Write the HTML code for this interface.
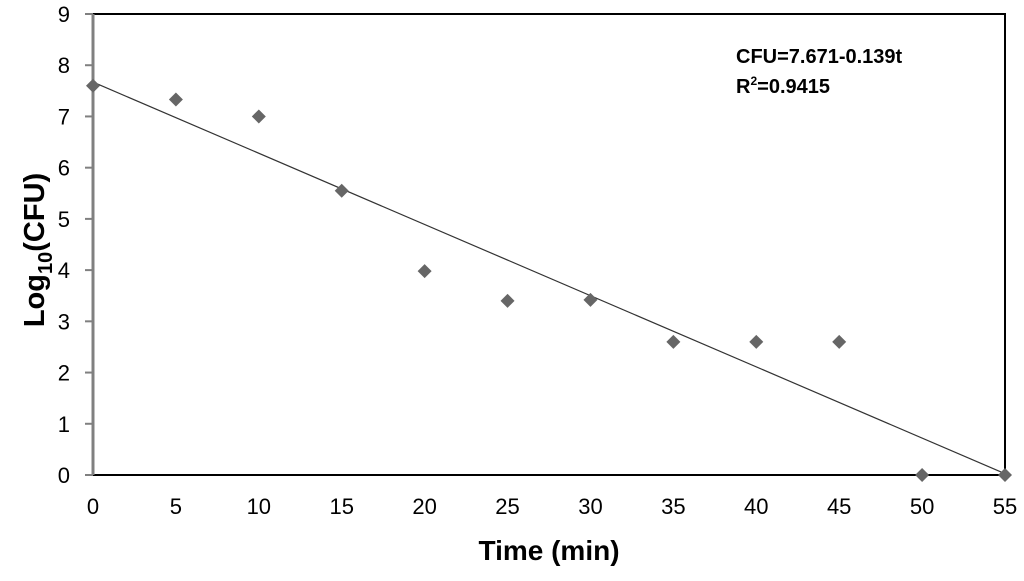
<!DOCTYPE html>
<html><head><meta charset="utf-8"><style>
body{margin:0;background:#fff;font-family:"Liberation Sans",sans-serif}
</style></head><body>
<svg id="c" width="1024" height="576" xmlns="http://www.w3.org/2000/svg"></svg>
<script>
const xVals=[0,5,10,15,20,25,30,35,40,45,50,55];
const yVals=[7.6,7.33,7.0,5.55,3.98,3.4,3.42,2.6,2.6,2.6,0,0];
const xTicks=[0,5,10,15,20,25,30,35,40,45,50,55];
const yTicks=[0,1,2,3,4,5,6,7,8,9];
const trendCoef=[7.671,-0.139];
const L=93,R=1005,T=14,B=475;
const sx=v=>L+(v-0)/55*(R-L);
const sy=v=>B-(v/9)*(B-T);
const s=document.getElementById('c');
const NS='http://www.w3.org/2000/svg';
function mk(tag,a,txt){const e=document.createElementNS(NS,tag);for(const k in a)e.setAttribute(k,a[k]);if(txt!=null)e.textContent=txt;s.appendChild(e);return e;}
let e;
e=mk('rect',{x:L,y:T,width:R-L,height:B-T,fill:'none',stroke:'#000','stroke-width':2});


e=mk('line',{x1:L,y1:T,x2:L,y2:B,stroke:'#808080','stroke-width':3});


yTicks.forEach(t=>{
 e=mk('line',{x1:L-8,y1:sy(t),x2:L,y2:sy(t),stroke:'#808080','stroke-width':2});
 
 
 e=mk('text',{x:70,y:sy(t)+8,'text-anchor':'end','font-size':22,fill:'#000'},t);
 
 
});
xTicks.forEach(t=>{
 e=mk('text',{x:sx(t),y:514,'text-anchor':'middle','font-size':22,fill:'#000'},t);
 
 
});
e=mk('line',{x1:sx(0),y1:sy(trendCoef[0]),x2:sx(55),y2:sy(trendCoef[0]+trendCoef[1]*55),stroke:'#333','stroke-width':1.2});


xVals.forEach((x,i)=>{
 const cx=sx(x),cy=sy(yVals[i]);
 e=mk('polygon',{points:`${cx},${cy-7} ${cx+7},${cy} ${cx},${cy+7} ${cx-7},${cy}`,fill:'#666'});
 
 
});
e=mk('text',{x:736,y:63,'font-size':20,'font-weight':'bold'},'CFU=7.671-0.139t');


e=mk('text',{x:736,y:93,'font-size':20,'font-weight':'bold'});
e.innerHTML='R<tspan font-size="12" dy="-8">2</tspan><tspan dy="8">=0.9415</tspan>';


e=mk('text',{x:549,y:560,'text-anchor':'middle','font-size':28,'font-weight':'bold'},'Time (min)');


e=mk('text',{x:0,y:0,'text-anchor':'middle','font-size':29,'font-weight':'bold',transform:'translate(44,250) rotate(-90)'});
e.innerHTML='Log<tspan font-size="20" dy="8">10</tspan><tspan dy="-8">(CFU)</tspan>';


</script>
</body></html>
